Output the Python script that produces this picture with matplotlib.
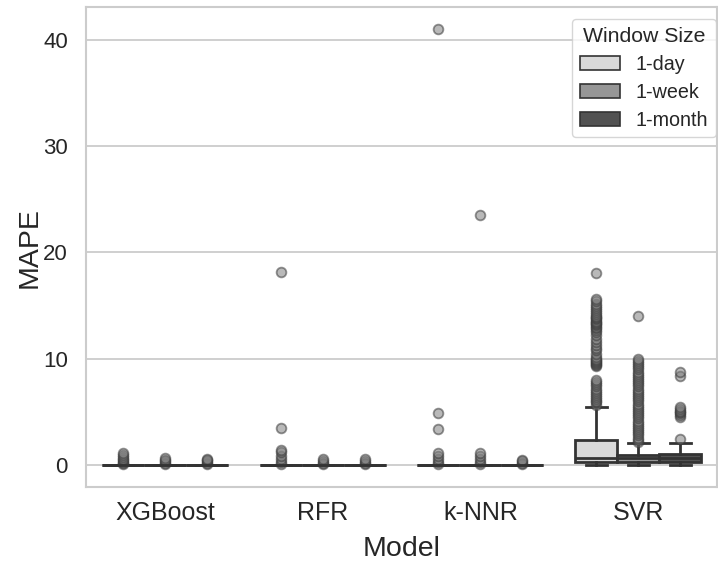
import matplotlib
matplotlib.use("Agg")
import matplotlib.pyplot as plt
from matplotlib.patches import Patch

plt.rcParams['font.family'] = ['Liberation Sans', 'DejaVu Sans']

models = ["XGBoost", "RFR", "k-NNR", "SVR"]
windows = ["1-day", "1-week", "1-month"]
colors = ["#d9d9d9", "#969696", "#525252"]

# box statistics per model (rows) and window (cols): q1, median, q3, whisker low, whisker high
q1 = [[0.0, 0.0, 0.0], [0.0, 0.0, 0.0], [0.0, 0.0, 0.0], [0.29, 0.31, 0.31]]
med = [[0.01, 0.01, 0.01], [0.01, 0.01, 0.01], [0.01, 0.01, 0.01], [0.63, 0.65, 0.68]]
q3 = [[0.02, 0.02, 0.02], [0.02, 0.02, 0.02], [0.02, 0.02, 0.02], [2.36, 1.0, 1.08]]
wlo = [[0.0, 0.0, 0.0], [0.0, 0.0, 0.0], [0.0, 0.0, 0.0], [0.0, 0.0, 0.0]]
whi = [[0.05, 0.05, 0.05], [0.05, 0.05, 0.05], [0.05, 0.05, 0.05], [5.45, 2.05, 2.1]]

fliers = [
    [[0.1, 0.2, 0.3, 0.45, 0.6, 0.8, 1.0, 1.1], [0.1, 0.2, 0.35, 0.5, 0.65], [0.1, 0.2, 0.35, 0.5, 0.6]],
    [[0.1, 0.3, 0.6, 0.9, 1.2, 1.4, 3.5, 18.2], [0.1, 0.25, 0.4, 0.6], [0.1, 0.25, 0.4, 0.6]],
    [[0.1, 0.3, 0.6, 0.9, 1.15, 3.45, 4.95, 41.0], [0.1, 0.3, 0.6, 0.9, 1.15, 23.55], [0.1, 0.25, 0.4, 0.5]],
    [[5.7, 5.9, 6.0, 6.2, 6.4, 6.6, 6.8, 7.0, 7.2, 7.4, 7.6, 7.8, 8.0,
      9.3, 9.4, 9.5, 9.6, 9.7, 9.8, 9.9, 10.0, 10.2, 10.5, 10.8, 11.0, 11.3, 11.6, 11.9,
      12.2, 12.5, 12.7, 12.9, 13.0, 13.2, 13.3, 13.4, 13.5, 13.6, 13.7, 13.8, 13.9, 14.0,
      14.2, 14.4, 14.6, 14.8, 15.0, 15.2, 15.4, 15.6, 18.05],
     [2.2, 2.4, 2.6, 2.8, 3.0, 3.2, 3.4, 3.6, 3.8, 4.0, 4.2, 4.4, 4.6, 4.8, 5.0, 5.2, 5.4,
      5.6, 5.8, 6.0, 6.2, 6.4, 6.6, 6.8, 7.0, 7.2, 7.4, 7.6, 7.8, 8.0, 8.2, 8.4, 8.6, 8.8,
      9.0, 9.2, 9.4, 9.6, 9.8, 10.0, 14.0],
     [2.45, 4.5, 4.7, 4.9, 5.0, 5.1, 5.3, 5.5, 8.4, 8.8]],
]

fig = plt.figure(figsize=(7.18, 5.61), dpi=100)
ax = fig.add_axes([86 / 718, (561 - 487) / 561, (717 - 86) / 718, (487 - 7.3) / 561])

width = 0.8 / 3
offsets = [-width, 0.0, width]
line_c = "#333333"

for i, m in enumerate(models):
    for h in range(3):
        st = [dict(q1=q1[i][h], med=med[i][h], q3=q3[i][h], whislo=wlo[i][h],
                   whishi=whi[i][h], fliers=fliers[i][h])]
        ax.bxp(st, positions=[i + offsets[h]], widths=width, patch_artist=True,
               manage_ticks=False,
               boxprops=dict(facecolor=colors[h], edgecolor=line_c, linewidth=2.0),
               medianprops=dict(color=line_c, linewidth=2.0),
               whiskerprops=dict(color=line_c, linewidth=2.0),
               capprops=dict(color=line_c, linewidth=2.0),
               flierprops=dict(marker='o', markerfacecolor='gray', markeredgecolor='#3a3a3a',
                               markersize=7, markeredgewidth=1.3, alpha=0.55, linestyle='none'),
               zorder=3)

ax.set_xlim(-0.5, 3.5)
ax.set_ylim(-2.05, 43.05)
ax.set_xticks(range(len(models)))
ax.set_xticklabels(models, fontsize=18, color="#262626")
ax.set_yticks([0, 10, 20, 30, 40])
ax.tick_params(axis='y', labelsize=16, labelcolor="#262626", length=0, pad=13)
ax.tick_params(axis='x', length=0, pad=10)
ax.set_xlabel("Model", fontsize=20.5, color="#262626", labelpad=8)
ax.set_ylabel("MAPE", fontsize=20.5, color="#262626", labelpad=0)

ax.set_axisbelow(True)
ax.yaxis.grid(True, color="#cccccc", linewidth=1.3)
ax.xaxis.grid(False)
for s in ax.spines.values():
    s.set_color("#cccccc")
    s.set_linewidth(1.5)

handles = [Patch(facecolor=colors[h], edgecolor=line_c, linewidth=1.2, label=windows[h]) for h in range(3)]
leg = ax.legend(handles=handles, title="Window Size", loc="upper right", fontsize=14.2,
                title_fontsize=15.3, frameon=True, fancybox=True, borderpad=0.4,
                handlelength=2.0, handletextpad=0.8, labelspacing=0.45,
                borderaxespad=0.0, bbox_to_anchor=(0.998, 1 - (19 - 7.3) / 480))
leg.get_frame().set_edgecolor("#cccccc")
leg.get_title().set_color("#262626")
for t in leg.get_texts():
    t.set_color("#262626")

fig.savefig("out.png", dpi=100)
